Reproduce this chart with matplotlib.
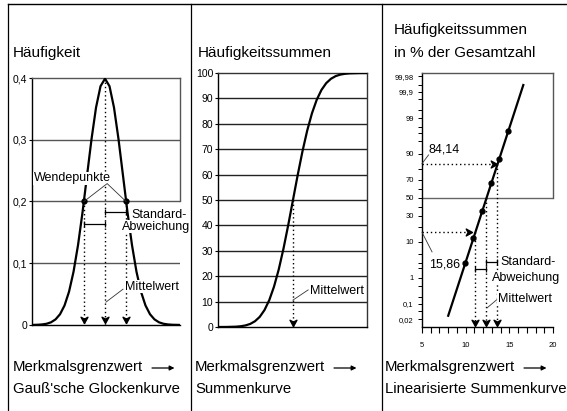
import math
import numpy as np
import matplotlib
matplotlib.use('Agg')
import matplotlib.pyplot as plt
from matplotlib.lines import Line2D
from matplotlib.path import Path
from matplotlib.patches import FancyArrowPatch
from matplotlib.ticker import FixedLocator, NullFormatter, MultipleLocator
from matplotlib import font_manager

# ---------------- data ----------------
# Panel 1: Gauss bell curve (x in curve units, y = frequency)
bell_x = [-4.06, -3.75, -3.5, -3.25, -3.0, -2.75, -2.5, -2.25, -2.0, -1.75, -1.5, -1.25,
          -1.0, -0.75, -0.5, -0.25, 0.0, 0.25, 0.5, 0.75, 1.0, 1.25, 1.5, 1.75, 2.0,
          2.25, 2.5, 2.75, 3.0, 3.25, 3.5, 3.75, 4.17]
bell_y = [0.0001, 0.0004, 0.0009, 0.002, 0.0044, 0.0091, 0.0175, 0.0317, 0.054, 0.0863,
          0.1295, 0.1826, 0.242, 0.3011, 0.3521, 0.3867, 0.3989, 0.3867, 0.3521, 0.3011,
          0.242, 0.1826, 0.1295, 0.0863, 0.054, 0.0317, 0.0175, 0.0091, 0.0044, 0.002,
          0.0009, 0.0004, 0.0001]
wende_x = [-1.17, 1.17]
wende_y = [0.2, 0.2]
mean1 = 0.0
peak1 = 0.4
p1_yticks = [0, 0.1, 0.2, 0.3, 0.4]
p1_yticklabels = ['0', '0,1', '0,2', '0,3', '0,4']

# Panel 2: cumulative curve (percent)
cum_x = [-3.95, -3.5, -3.0, -2.75, -2.5, -2.25, -2.0, -1.75, -1.5, -1.25, -1.0, -0.75,
         -0.5, -0.25, 0.0, 0.25, 0.5, 0.75, 1.0, 1.25, 1.5, 1.75, 2.0, 2.25, 2.5, 2.75,
         3.0, 3.5, 3.9]
cum_y = [0.0, 0.02, 0.13, 0.3, 0.62, 1.22, 2.28, 4.0, 6.68, 10.56, 15.87, 22.66, 30.85,
         40.13, 50.0, 59.87, 69.15, 77.34, 84.13, 89.44, 93.32, 96.0, 97.72, 98.78, 99.38,
         99.7, 99.87, 99.98, 100.0]
mean2 = 0.0
p2_yticks = [0, 10, 20, 30, 40, 50, 60, 70, 80, 90, 100]

# Panel 3: linearised cumulative curve on probability paper
lin_x = [8.0, 16.6]
lin_y = [0.03, 99.95]
pts_x = [9.93, 10.84, 11.87, 12.9, 13.8, 14.85]
pts_y = [2.9, 11.9, 35.0, 66.6, 87.0, 97.4]
mean3 = 12.38
sig_lo3 = 11.07
sig_hi3 = 13.63
p_hi = 84.14
p_lo = 15.86
p3_yticks = [0.02, 0.1, 1, 10, 30, 50, 70, 90, 99, 99.9, 99.98]
p3_yticklabels = ['0,02', '0,1', '1', '10', '30', '50', '70', '90', '99', '99,9', '99,98']
p3_yminor = [0.05, 0.2, 0.5, 2, 3, 5, 20, 40, 60, 80, 95, 97, 98, 99.5, 99.8, 99.95]
p3_xticks = [5, 10, 15, 20]

# ---------------- style ----------------
plt.rcParams['font.family'] = ['Liberation Sans', 'DejaVu Sans']
names = {f.name for f in font_manager.fontManager.ttflist}
narrow = 'Liberation Sans Narrow' if 'Liberation Sans Narrow' in names else 'Liberation Sans'

W, H = 567, 411
fig = plt.figure(figsize=(W / 100, H / 100), dpi=100)


def fx(px):
    return px / W


def fy(py):
    return 1 - py / H


def axes_px(l, t, r, b):
    return fig.add_axes([fx(l), fy(b), (r - l) / W, (b - t) / H])


# probability scale helpers
_a = [-3.969683028665376e+01, 2.209460984245205e+02, -2.759285104469687e+02,
      1.383577518672690e+02, -3.066479806614716e+01, 2.506628277459239e+00]
_b = [-5.447609879822406e+01, 1.615858368580409e+02, -1.556989798598866e+02,
      6.680131188771972e+01, -1.328068155288572e+01]
_c = [-7.784894002430293e-03, -3.223964580411365e-01, -2.400758277161838e+00,
      -2.549732539343734e+00, 4.374664141464968e+00, 2.938163982698783e+00]
_d = [7.784695709041462e-03, 3.224671290700398e-01, 2.445134137142996e+00,
      3.754408661907416e+00]


def ppf_pct(p):
    p = np.clip(np.asarray(p, dtype=float) / 100.0, 1e-12, 1 - 1e-12)
    plow = 0.02425
    out = np.empty_like(p)
    lo = p < plow
    hi = p > 1 - plow
    mid = ~(lo | hi)
    q = np.sqrt(-2 * np.log(p[lo]))
    out[lo] = (((((_c[0] * q + _c[1]) * q + _c[2]) * q + _c[3]) * q + _c[4]) * q + _c[5]) / \
              ((((_d[0] * q + _d[1]) * q + _d[2]) * q + _d[3]) * q + 1)
    q = np.sqrt(-2 * np.log(1 - p[hi]))
    out[hi] = -(((((_c[0] * q + _c[1]) * q + _c[2]) * q + _c[3]) * q + _c[4]) * q + _c[5]) / \
               ((((_d[0] * q + _d[1]) * q + _d[2]) * q + _d[3]) * q + 1)
    q = p[mid] - 0.5
    r = q * q
    out[mid] = (((((_a[0] * r + _a[1]) * r + _a[2]) * r + _a[3]) * r + _a[4]) * r + _a[5]) * q / \
               (((((_b[0] * r + _b[1]) * r + _b[2]) * r + _b[3]) * r + _b[4]) * r + 1)
    return out


_verf = np.vectorize(math.erf, otypes=[float])


def cdf_pct(z):
    z = np.asarray(z, dtype=float)
    return 50.0 * (1.0 + _verf(z / math.sqrt(2.0)))


arrow_down = Path([(0, 0), (-0.55, 1), (0, 0.7), (0.55, 1), (0, 0)],
                  [Path.MOVETO, Path.LINETO, Path.LINETO, Path.LINETO, Path.CLOSEPOLY])
arrow_right = Path([(0, 0), (-1, 0.55), (-0.7, 0), (-1, -0.55), (0, 0)],
                   [Path.MOVETO, Path.LINETO, Path.LINETO, Path.LINETO, Path.CLOSEPOLY])

DOT = (0, (1, 2))
ann_fs = 9
white = dict(fc='white', ec='none', pad=0.4)

# ---------------- frame lines ----------------
fig.add_artist(Line2D([fx(8), 1], [fy(4), fy(4)], color='k', lw=1.0))
for xv in (8, 191, 382):
    fig.add_artist(Line2D([fx(xv), fx(xv)], [fy(4), 0], color='k', lw=0.9))

# ---------------- panel 1 ----------------
ax1 = axes_px(32, 78, 180, 325)
ax1.set_xlim(-4.06, 4.17)
ax1.set_ylim(0, 0.4)
for v in p1_yticks[1:-1]:
    ax1.axhline(v, color='#555555', lw=1.0, zorder=1)
ax1.plot(bell_x, bell_y, color='k', lw=1.6, zorder=3)
for xv in wende_x:
    ax1.plot([xv, xv], [0.2, 0.0], color='k', lw=1.0, ls=DOT, zorder=2)
    ax1.plot([xv], [0.004], marker=arrow_down, ms=9, color='k', ls='none', zorder=4)
ax1.plot([mean1, mean1], [peak1, 0.0], color='k', lw=1.0, ls=DOT, zorder=2)
ax1.plot([mean1], [0.004], marker=arrow_down, ms=9, color='k', ls='none', zorder=4)
ax1.plot(wende_x, wende_y, 'o', color='k', ms=3.5, zorder=5)
ax1.text(-1.83, 0.238, 'Wendepunkte', fontsize=ann_fs, ha='center', va='center',
         bbox=white, zorder=6)
ax1.plot([wende_x[0], 0.12, wende_x[1]], [0.2, 0.229, 0.2], color='#333333', lw=0.6, zorder=6)
ax1.plot([mean1, wende_x[1]], [0.183, 0.183], color='k', lw=0.9, marker='|', ms=4, mew=0.9, zorder=6)
ax1.plot([wende_x[0], mean1], [0.164, 0.164], color='k', lw=0.9, marker='|', ms=4, mew=0.9, zorder=6)
ax1.text(1.44, 0.178, 'Standard-', fontsize=ann_fs, ha='left', va='center', bbox=white, zorder=6)
ax1.text(0.94, 0.159, 'Abweichung', fontsize=ann_fs, ha='left', va='center', bbox=white, zorder=6)
ax1.text(1.11, 0.0616, 'Mittelwert', fontsize=ann_fs, ha='left', va='center', bbox=white, zorder=6)
ax1.plot([0.05, 1.0], [0.037, 0.058], color='#333333', lw=0.6, zorder=6)
ax1.set_xticks([])
ax1.set_yticks(p1_yticks)
ax1.set_yticklabels(p1_yticklabels)
ax1.tick_params(axis='y', direction='out', length=2.5, width=0.8, pad=1, labelsize=7.5)
ax1.spines['left'].set_color('k')
ax1.spines['bottom'].set_color('k')
ax1.spines['top'].set_color('#555555')
ax1.spines['right'].set_visible(False)
ax1.plot([4.17, 4.17], [0.2, 0.4], color='#555555', lw=1.0, clip_on=False)
for s in ax1.spines.values():
    s.set_linewidth(1.0)

# ---------------- panel 2 ----------------
ax2 = axes_px(218, 73, 367, 327)
ax2.set_xlim(-3.95, 3.9)
ax2.set_ylim(0, 100)
for v in p2_yticks[1:-1]:
    ax2.axhline(v, color='#222222', lw=1.0, zorder=1)
ax2.plot(cum_x, cum_y, color='k', lw=1.6, zorder=3)
ax2.plot([mean2, mean2], [50, 0], color='k', lw=1.0, ls=DOT, zorder=2)
ax2.plot([mean2], [0.3], marker=arrow_down, ms=9, color='k', ls='none', zorder=4)
ax2.text(0.9, 14.2, 'Mittelwert', fontsize=ann_fs, ha='left', va='center', bbox=white, zorder=6)
ax2.plot([0.0, 0.8], [10.6, 14.6], color='#333333', lw=0.6, zorder=6)
ax2.set_xticks([])
ax2.set_yticks(p2_yticks)
ax2.set_yticklabels([str(v) for v in p2_yticks])
ax2.tick_params(axis='y', direction='out', length=2.5, width=0.8, pad=1, labelsize=7.5)
for name, s in ax2.spines.items():
    s.set_linewidth(1.0)
    s.set_color('#333333' if name in ('top', 'right') else 'k')

# ---------------- panel 3 ----------------
ax3 = axes_px(422, 73, 553, 327)
ax3.set_yscale('function', functions=(ppf_pct, cdf_pct))
ylo, yhi = 0.0085, 99.9864
ax3.set_xlim(5, 20)
ax3.set_ylim(ylo, yhi)
ax3.axhline(50, color='#666666', lw=1.0, zorder=1)
ax3.plot(lin_x, lin_y, color='k', lw=1.6, zorder=3)
ax3.plot(pts_x, pts_y, 'o', color='k', ms=3.5, zorder=4)
ax3.plot([5, sig_hi3 - 0.05], [p_hi, p_hi], color='k', lw=1.0, ls=DOT, zorder=2)
ax3.plot([sig_hi3 - 0.05], [p_hi], marker=arrow_right, ms=9, color='k', ls='none', zorder=5)
ax3.plot([5, sig_lo3 - 0.3], [p_lo, p_lo], color='k', lw=1.0, ls=DOT, zorder=2)
ax3.plot([sig_lo3 - 0.3], [p_lo], marker=arrow_right, ms=9, color='k', ls='none', zorder=5)
for xv, top in ((sig_lo3, p_lo), (mean3, 50), (sig_hi3, p_hi)):
    ax3.plot([xv, xv], [top, ylo], color='k', lw=1.0, ls=DOT, zorder=2)
    ax3.plot([xv], [ylo * 1.1], marker=arrow_down, ms=9, color='k', ls='none', zorder=5,
             clip_on=False)
ax3.text(5.69, 91.9, '84,14', fontsize=ann_fs, ha='left', va='center', zorder=6)
ax3.plot([5.0, 5.75], [p_hi, 89.5], color='#333333', lw=0.6, zorder=6, clip_on=False)
ax3.text(5.8, 2.7, '15,86', fontsize=ann_fs, ha='left', va='center', zorder=6)
ax3.plot([5.0, 6.15], [p_lo, 5.8], color='#333333', lw=0.6, zorder=6, clip_on=False)
ax3.plot([mean3, sig_hi3], [3.1, 3.1], color='k', lw=0.9, marker='|', ms=4, mew=0.9, zorder=6)
ax3.plot([sig_lo3, mean3], [1.92, 1.92], color='k', lw=0.9, marker='|', ms=4, mew=0.9, zorder=6)
ax3.text(13.93, 3.1, 'Standard-', fontsize=ann_fs, ha='left', va='center', bbox=white, zorder=6)
ax3.text(13.02, 0.99, 'Abweichung', fontsize=ann_fs, ha='left', va='center', bbox=white, zorder=6)
ax3.text(13.7, 0.16, 'Mittelwert', fontsize=ann_fs, ha='left', va='center', bbox=white, zorder=6)
ax3.plot([12.45, 13.55], [0.068, 0.15], color='#333333', lw=0.6, zorder=6)
ax3.yaxis.set_major_locator(FixedLocator(p3_yticks))
ax3.set_yticklabels(p3_yticklabels, fontfamily=narrow)
ax3.yaxis.set_minor_locator(FixedLocator(p3_yminor))
ax3.yaxis.set_minor_formatter(NullFormatter())
ax3.set_xticks(p3_xticks)
ax3.set_xticklabels([str(v) for v in p3_xticks], fontfamily=narrow)
ax3.xaxis.set_minor_locator(MultipleLocator(1))
ax3.tick_params(axis='y', which='both', direction='out', length=3, width=0.7, pad=3, labelsize=5.5)
ax3.tick_params(axis='x', which='both', direction='out', length=4, width=0.8, pad=7, labelsize=5.5)
ax3.spines['left'].set_color('k')
ax3.spines['bottom'].set_color('k')
ax3.spines['top'].set_color('#555555')
ax3.spines['right'].set_visible(False)
ax3.plot([20, 20], [50, yhi], color='#555555', lw=1.0, clip_on=False)
for s in ax3.spines.values():
    s.set_linewidth(1.0)

# ---------------- titles & captions ----------------
fig.text(fx(13), fy(53), 'Häufigkeit', fontsize=11, ha='left', va='center')
fig.text(fx(198), fy(53), 'Häufigkeitssummen', fontsize=11, ha='left', va='center')
fig.text(fx(394), fy(30), 'Häufigkeitssummen', fontsize=11, ha='left', va='center')
fig.text(fx(394), fy(53), 'in % der Gesamtzahl', fontsize=11, ha='left', va='center')

captions = [(13, "Gauß'sche Glockenkurve"),
            (195, 'Summenkurve'),
            (385, 'Linearisierte Summenkurve')]
renderer = fig.canvas.get_renderer()
cap_fs = 10.7
for x0, sub in captions:
    t = fig.text(fx(x0), fy(367), 'Merkmalsgrenzwert', fontsize=cap_fs, ha='left', va='center')
    fig.text(fx(x0), fy(389), sub, fontsize=cap_fs, ha='left', va='center')
    bb = t.get_window_extent(renderer=renderer)
    end_px = bb.x1
    a0 = end_px + 6
    a1 = end_px + 34
    fig.add_artist(FancyArrowPatch((a0 / W, fy(368)), (a1 / W, fy(368)),
                                   transform=fig.transFigure, arrowstyle='-|>',
                                   mutation_scale=7, lw=0.9, color='k'))

fig.savefig('out.png', dpi=100)
